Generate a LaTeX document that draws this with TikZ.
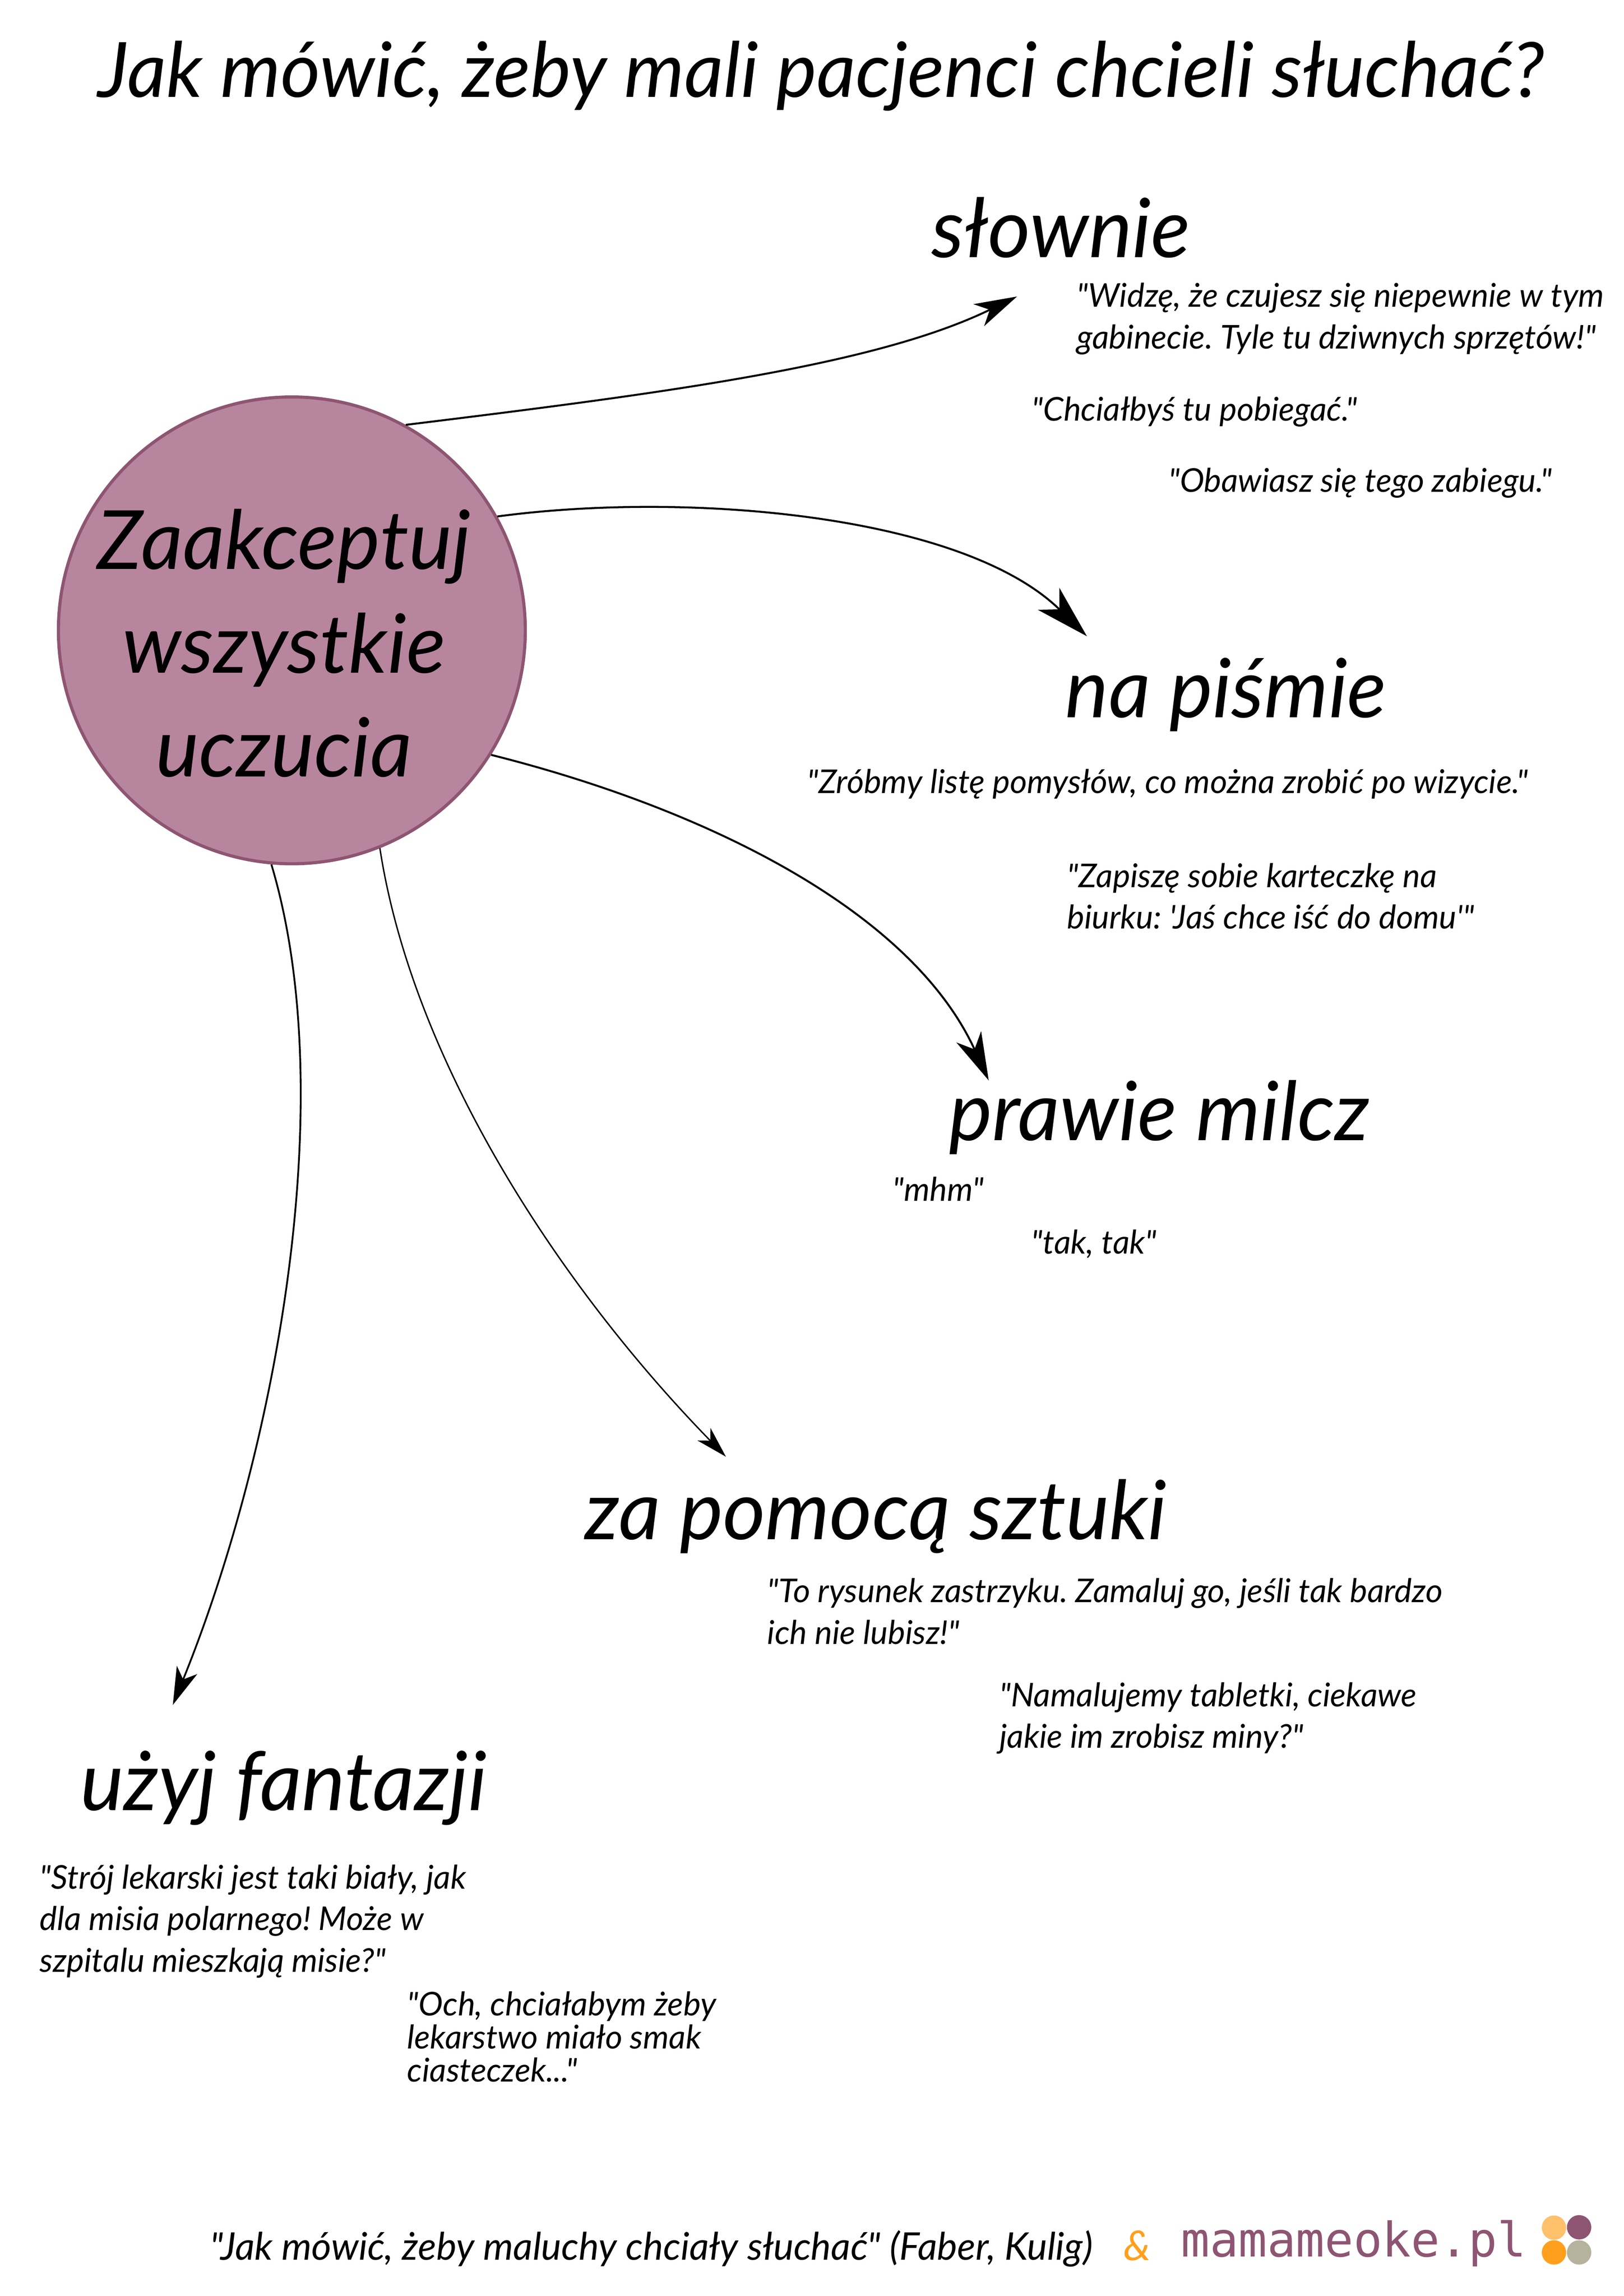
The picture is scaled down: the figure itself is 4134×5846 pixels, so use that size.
\documentclass[tikz,border=0pt]{standalone}
\usepackage{fontspec}
\setmainfont{Lato}[Ligatures=TeXOff]
\newfontfamily\monof{DejaVu Sans Mono}
\usetikzlibrary{arrows.meta}
\frenchspacing
\definecolor{plum}{HTML}{8E5572}
\definecolor{plumfill}{HTML}{B8859F}
\definecolor{amber}{HTML}{FFA01C}
\definecolor{lightamber}{HTML}{FFC06C}
\definecolor{sage}{HTML}{B5B29E}
\newcommand{\setpx}[2]{\fontsize{\dimexpr #1pt*2845/10000\relax}{\dimexpr #2pt*2845/10000\relax}\selectfont}
\tikzset{
 quote/.style={anchor=base west,inner sep=0pt,font=\setpx{83.4}{106}\itshape,align=left},
 head/.style={anchor=base,inner sep=0pt,font=\setpx{208}{250}\itshape},
 dot/.style={circle,minimum size=62*0.2845pt,inner sep=0pt,outer sep=0pt},
}
\begin{document}
\begin{tikzpicture}[x=0.01cm,y=-0.01cm]
\useasboundingbox (0,0) rectangle (4134,5846);
\fill[white] (0,0) rectangle (4134,5846);
\node[anchor=base,inner sep=0pt,font=\setpx{194.3}{190}\itshape] (title) at (2090,247) {Jak mówić, żeby mali pacjenci chcieli słuchać?};
\node[circle,minimum size=1188*0.2845pt,inner sep=0pt,outer sep=1.14pt,fill=plumfill,draw=plum,line width=8*0.2845pt] (core) at (743,1605) {};
\node[inner sep=0pt,align=center,font=\setpx{208}{264}\itshape] (coretext) at (723,1638) {Zaakceptuj\\wszystkie\\uczucia};
\node[head] (h1) at (2701,655) {słownie};
\node[head] (h2) at (3121,1827) {na piśmie};
\node[head] (h3) at (2951,2904) {prawie milcz};
\node[head] (h4) at (2230,3920) {za pomocą sztuki};
\node[head] (h5) at (722,4609) {użyj fantazji};
\node[quote] (q1) at (2741,888) {"Widzę, że czujesz się niepewnie w tym\\gabinecie. Tyle tu dziwnych sprzętów!"};
\node[quote] (q2) at (2626,1071) {"Chciałbyś tu pobiegać."};
\node[quote] (q3) at (2974,1253) {"Obawiasz się tego zabiegu."};
\node[quote] (q4) at (2054,2020) {"Zróbmy listę pomysłów, co można zrobić po wizycie."};
\node[quote] (q5) at (2716,2365) {"Zapiszę sobie karteczkę na\\biurku: 'Jaś chce iść do domu'"};
\node[quote] (q6) at (2272,3058) {"mhm"};
\node[quote] (q7) at (2625,3193) {"tak, tak"};
\node[quote] (q8) at (1953,4186) {"To rysunek zastrzyku. Zamaluj go, jeśli tak bardzo\\ich nie lubisz!"};
\node[quote] (q9) at (2544,4451) {"Namalujemy tabletki, ciekawe\\jakie im zrobisz miny?"};
\node[quote] (q10) at (101,5021) {"Strój lekarski jest taki biały, jak\\dla misia polarnego! Może w\\szpitalu mieszkają misie?"};
\node[quote,font=\setpx{83.4}{84.5}\itshape] (q11) at (1036,5301) {"Och, chciałabym żeby\\lekarstwo miało smak\\ciasteczek..."};
\node[quote,font=\setpx{97}{97}\itshape] (q12) at (534,5754) {"Jak mówić, żeby maluchy chciały słuchać" (Faber, Kulig)};
\node[anchor=base west,inner sep=0pt,text=amber,font=\setpx{105}{105}\itshape] (amp) at (2860,5755) {\&};
\node[anchor=base west,inner sep=0pt,text=plum,font=\setpx{121.5}{121.5}\monof] (site) at (3006,5746) {mamameoke.pl};
\node[dot,fill=lightamber] (d1) at (3956,5672) {};
\node[dot,fill=plum] (d2) at (4020,5671) {};
\node[dot,fill=amber] (d3) at (3956,5735) {};
\node[dot,fill=sage] (d4) at (4020,5735) {};
\coordinate (e1) at (2589,755);
\coordinate (e2) at (2767,1620);
\coordinate (e3) at (2517,2751);
\coordinate (e4) at (1848,3709);
\coordinate (e5) at (440,4341);
\draw[line width=1.42pt,-{Stealth[length=10.8mm,width=6.2mm,inset=3.1mm]}] (core.61.7) .. controls (1700,1000) and (2230,930) .. (e1);
\draw[line width=1.42pt,-{Stealth[length=13.6mm,width=7.8mm,inset=3.8mm]}] (core.29.4) .. controls (1750,1250) and (2450,1310) .. (e2);
\draw[line width=1.42pt,-{Stealth[length=12.2mm,width=6.9mm,inset=3.5mm]}] (core.-32.7) .. controls (1800,2060) and (2320,2320) .. (e3);
\draw[line width=1pt,-{Stealth[length=8mm,width=4.6mm,inset=2.3mm]}] (core.-68.4) .. controls (1050,2700) and (1420,3270) .. (e4);
\draw[line width=1.28pt,-{Stealth[length=9.6mm,width=5.6mm,inset=2.6mm]}] (core.-95.3) .. controls (870,2800) and (700,3700) .. (e5);
\end{tikzpicture}
\end{document}
